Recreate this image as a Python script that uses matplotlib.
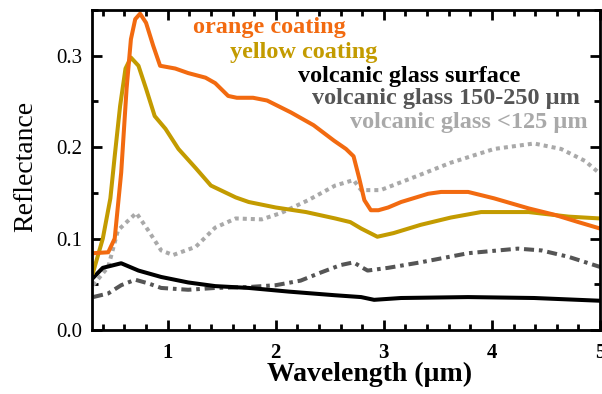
import matplotlib.pyplot as plt
from matplotlib.ticker import MultipleLocator, FormatStrFormatter

plt.rcParams['font.family'] = ['Liberation Serif', 'DejaVu Serif']

# spectra (wavelength in um, reflectance)
orange_x = [0.31, 0.45, 0.51, 0.57, 0.62, 0.66, 0.70, 0.745, 0.80, 0.866, 0.93, 1.07, 1.19, 1.35,
            1.44, 1.56, 1.64, 1.79, 1.92, 2.14, 2.35, 2.54, 2.65, 2.72, 2.77, 2.82, 2.88,
            2.95, 3.04, 3.16, 3.41, 3.53, 3.78, 4.02, 4.34, 4.58, 4.80, 5.0]
orange_y = [0.084, 0.085, 0.10, 0.172, 0.264, 0.318, 0.340, 0.346, 0.336, 0.311, 0.289, 0.286, 0.281,
            0.276, 0.27, 0.256, 0.254, 0.254, 0.251, 0.238, 0.224, 0.207, 0.198, 0.19, 0.167,
            0.142, 0.131, 0.131, 0.134, 0.14, 0.149, 0.151, 0.151, 0.144, 0.133, 0.126, 0.118, 0.111]

yellow_x = [0.31, 0.40, 0.47, 0.51, 0.56, 0.61, 0.66, 0.73, 0.80, 0.88, 0.98, 1.10, 1.26, 1.40,
            1.63, 1.75, 2.0, 2.28, 2.55, 2.69, 2.79, 2.94, 3.09, 3.34, 3.62, 3.90, 4.34, 4.71, 5.0]
yellow_y = [0.063, 0.10, 0.144, 0.19, 0.245, 0.286, 0.298, 0.289, 0.264, 0.234, 0.22, 0.198,
            0.177, 0.158, 0.145, 0.14, 0.134, 0.129, 0.122, 0.118, 0.111, 0.102, 0.106, 0.115,
            0.123, 0.129, 0.129, 0.124, 0.122]

surface_x = [0.31, 0.40, 0.57, 0.73, 0.94, 1.19, 1.44, 1.75, 2.12, 2.55, 2.79, 2.91, 3.16,
             3.78, 4.39, 5.0]
surface_y = [0.057, 0.068, 0.073, 0.065, 0.058, 0.052, 0.048, 0.046, 0.042, 0.038, 0.036,
             0.033, 0.035, 0.036, 0.035, 0.032]

coarse_x = [0.31, 0.45, 0.57, 0.70, 0.82, 0.94, 1.19, 1.44, 1.75, 2.0, 2.23, 2.42, 2.6, 2.72,
            2.79, 2.85, 3.04, 3.34, 3.78, 4.24, 4.46, 4.71, 5.0]
coarse_y = [0.036, 0.04, 0.049, 0.055, 0.051, 0.046, 0.044, 0.046, 0.047, 0.049, 0.054, 0.063,
            0.071, 0.074, 0.069, 0.065, 0.068, 0.074, 0.084, 0.089, 0.087, 0.08, 0.069]

fine_x = [0.31, 0.45, 0.54, 0.71, 0.82, 0.94, 1.05, 1.26, 1.44, 1.63, 1.87, 2.05, 2.30, 2.55,
          2.72, 2.79, 2.97, 3.32, 3.62, 4.02, 4.39, 4.64, 4.86, 5.0]
fine_y = [0.049, 0.069, 0.109, 0.128, 0.109, 0.087, 0.082, 0.091, 0.112, 0.122, 0.121, 0.128,
          0.142, 0.158, 0.164, 0.153, 0.153, 0.169, 0.183, 0.198, 0.204, 0.198, 0.185, 0.171]

orange = '#F26A10'
yellow = '#C39B00'
dark = '#555555'
light = '#A9A9A9'

fig = plt.figure(figsize=(6.02, 3.94), dpi=100)
ax = fig.add_axes([92/602, 64/394, 508/602, 320/394])

lw = 2.9
ax.plot(fine_x, fine_y, color=light, lw=lw, linestyle=(0, (1, 1)), dash_capstyle='butt')
ax.plot(coarse_x, coarse_y, color=dark, lw=lw, linestyle=(0, (2.5, 1.2, 0.9, 1.2)),
        dash_capstyle='butt')
ax.plot(surface_x, surface_y, color='black', lw=lw)
ax.plot(yellow_x, yellow_y, color=yellow, lw=lw)
ax.plot(orange_x, orange_y, color=orange, lw=lw)

ax.set_xlim(0.3, 5.0)
ax.set_ylim(0.0, 0.35)
ax.xaxis.set_major_locator(MultipleLocator(1))
ax.xaxis.set_minor_locator(MultipleLocator(0.2))
ax.yaxis.set_major_locator(MultipleLocator(0.1))
ax.yaxis.set_minor_locator(MultipleLocator(0.05))
ax.yaxis.set_major_formatter(FormatStrFormatter('%.1f'))

for s in ax.spines.values():
    s.set_linewidth(2)
ax.tick_params(which='both', direction='in', top=True, right=True, width=2)
ax.tick_params(which='major', length=7)
ax.tick_params(which='minor', length=4.5)
ax.tick_params(axis='y', labelsize=15, pad=7)
ax.tick_params(axis='x', labelsize=15, pad=9)
for t in ax.get_xticklabels():
    t.set_fontweight('bold')

ax.set_xlabel('Wavelength (µm)', fontsize=20, fontweight='bold')
ax.xaxis.set_label_coords(0.547, -0.10)
ax.set_ylabel('Reflectance', fontsize=20)
ax.yaxis.set_label_coords(-0.105, 0.51)

# coloured labels in place of a legend (pixel positions from the reference)
labels = [('orange coating', orange, 193, 33),
          ('yellow coating', yellow, 230, 58),
          ('volcanic glass surface', 'black', 298, 82),
          ('volcanic glass 150-250 µm', dark, 312, 104),
          ('volcanic glass <125 µm', light, 350, 128)]
for txt, c, px, py in labels:
    ax.text((px - 92) / 508, (330 - py) / 320, txt, color=c, fontsize=17.5,
            fontweight='bold', transform=ax.transAxes, ha='left', va='baseline')

fig.savefig('out.png', dpi=100)
